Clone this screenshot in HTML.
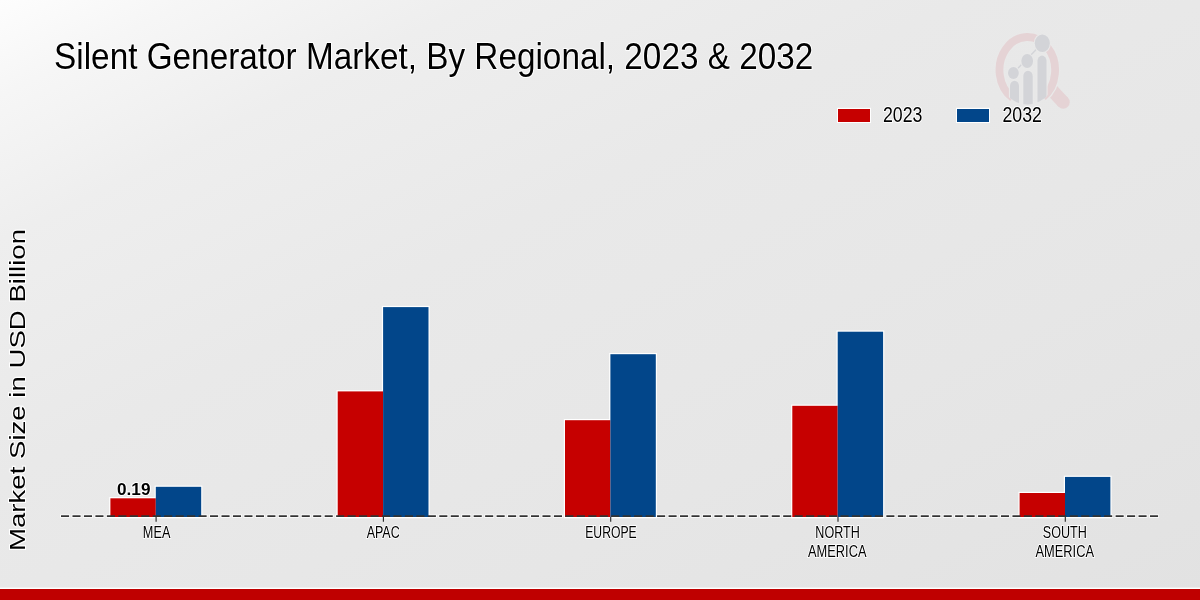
<!DOCTYPE html>
<html><head><meta charset="utf-8">
<style>
html,body{margin:0;padding:0;width:1200px;height:600px;overflow:hidden;background:#e8e8e8;}
svg{display:block;will-change:transform;font-family:"Liberation Sans", sans-serif;}
</style></head>
<body>
<svg width="1200" height="600" viewBox="0 0 1200 600">
<defs>
<linearGradient id="bg" x1="0" y1="0" x2="1" y2="1">
<stop offset="0" stop-color="#fdfdfd"/>
<stop offset="0.08" stop-color="#f6f6f6"/>
<stop offset="0.2" stop-color="#eeeeee"/>
<stop offset="0.4" stop-color="#e9e9e9"/>
<stop offset="0.7" stop-color="#e6e6e6"/>
<stop offset="1" stop-color="#e2e2e2"/>
</linearGradient>
</defs>
<rect x="0" y="0" width="1200" height="600" fill="url(#bg)"/>
<defs><clipPath id="lc"><ellipse cx="1027.3" cy="66" rx="31.5" ry="38.5"/></clipPath></defs>
<g id="logo">
<line x1="1049.5" y1="87.5" x2="1063.2" y2="102.2" stroke="#e5d3d5" stroke-width="13"/>
<circle cx="1063.2" cy="102.2" r="6.5" fill="#e5d3d5"/>
<path d="M1012.57,97.99 A27.8,33 0 1 1 1043.25,97.03" fill="none" stroke="#e9e9e9" stroke-width="10.5"/>
<path d="M1012.57,97.99 A27.8,33 0 1 1 1043.25,97.03" fill="none" stroke="#e5d3d5" stroke-width="7.8"/>
<g fill="#d3d4d8" stroke="#e9e9e9" stroke-width="2.2" paint-order="stroke">
<g clip-path="url(#lc)">
<path d="M1010,110 V85.92 A4.50,5.22 0 0 1 1019,85.92 V110 Z"/>
<path d="M1023.3,110 V76.20 A4.70,5.45 0 0 1 1032.7,76.20 V110 Z"/>
<path d="M1037.5,110 V60.82 A4.50,5.22 0 0 1 1046.5,60.82 V110 Z"/>
</g>
<line x1="1013.4" y1="73" x2="1042.3" y2="43.25" stroke="#d3d4d8" stroke-width="1.4"/>
<ellipse cx="1013.4" cy="73" rx="5.4" ry="6.05"/>
<ellipse cx="1027.2" cy="61" rx="5.85" ry="6.9"/>
<ellipse cx="1042.3" cy="43.25" rx="7.5" ry="8.75"/>
</g>
</g>
<g fill="#000">
<text x="54.1" y="69" font-size="36.4" text-anchor="start" font-weight="normal" textLength="759.2" lengthAdjust="spacingAndGlyphs" stroke="#fff" stroke-width="2" stroke-linejoin="round" paint-order="stroke">Silent Generator Market, By Regional, 2023 &amp; 2032</text>

<rect x="837" y="107.8" width="34" height="15.2" fill="#fff"/>
<rect x="838" y="109" width="32" height="13" fill="#c60000"/>
<text x="883" y="121.5" font-size="22.1" text-anchor="start" font-weight="normal" textLength="39.5" lengthAdjust="spacingAndGlyphs" stroke="#fff" stroke-width="2" stroke-linejoin="round" paint-order="stroke">2023</text>

<rect x="956" y="107.8" width="34" height="15.2" fill="#fff"/>
<rect x="957" y="109" width="32" height="13" fill="#02468a"/>
<text x="1002.5" y="121.5" font-size="22.1" text-anchor="start" font-weight="normal" textLength="39.5" lengthAdjust="spacingAndGlyphs" stroke="#fff" stroke-width="2" stroke-linejoin="round" paint-order="stroke">2032</text>

<text transform="translate(24.7,390) rotate(-90)" text-anchor="middle" font-size="22.3" textLength="322" lengthAdjust="spacingAndGlyphs" stroke="#fff" stroke-width="2" paint-order="stroke">Market Size in USD Billion</text>
</g>
<line x1="60.2" y1="516.1" x2="1159.1" y2="516.1" stroke="#fff" stroke-width="3.4" stroke-dasharray="9.700 1.763"/>
<g fill="#fff">
<rect x="109.20" y="497.10" width="47.80" height="21.20"/>
<rect x="154.60" y="485.60" width="47.80" height="32.70"/>
<rect x="336.50" y="390.20" width="47.80" height="128.10"/>
<rect x="381.90" y="305.90" width="47.80" height="212.40"/>
<rect x="563.80" y="419.00" width="47.80" height="99.30"/>
<rect x="609.20" y="353.00" width="47.80" height="165.30"/>
<rect x="791.10" y="404.60" width="47.80" height="113.70"/>
<rect x="836.50" y="330.50" width="47.80" height="187.80"/>
<rect x="1018.40" y="491.80" width="47.80" height="26.50"/>
<rect x="1063.80" y="475.70" width="47.80" height="42.60"/>
</g>
<rect x="110.40" y="498.3" width="45.4" height="18.70" fill="#c60000"/>
<rect x="155.80" y="486.8" width="45.4" height="30.20" fill="#02468a"/>
<rect x="337.70" y="391.4" width="45.4" height="125.60" fill="#c60000"/>
<rect x="383.10" y="307.1" width="45.4" height="209.90" fill="#02468a"/>
<rect x="565.00" y="420.2" width="45.4" height="96.80" fill="#c60000"/>
<rect x="610.40" y="354.2" width="45.4" height="162.80" fill="#02468a"/>
<rect x="792.30" y="405.8" width="45.4" height="111.20" fill="#c60000"/>
<rect x="837.70" y="331.7" width="45.4" height="185.30" fill="#02468a"/>
<rect x="1019.60" y="493" width="45.4" height="24.00" fill="#c60000"/>
<rect x="1065.00" y="476.9" width="45.4" height="40.10" fill="#02468a"/>

<line x1="61" y1="516.1" x2="1158.3" y2="516.1" stroke="#333" stroke-width="1.75" stroke-dasharray="8.100 3.363"/>
<g stroke="#2a2a2a" stroke-width="1.15">
<line x1="156.10" y1="517" x2="156.10" y2="521.7"/>
<line x1="383.40" y1="517" x2="383.40" y2="521.7"/>
<line x1="610.70" y1="517" x2="610.70" y2="521.7"/>
<line x1="838.00" y1="517" x2="838.00" y2="521.7"/>
<line x1="1065.30" y1="517" x2="1065.30" y2="521.7"/>
</g>
<g fill="#000">
<text x="156.6" y="538.2" font-size="16.6" text-anchor="middle" font-weight="normal" textLength="27.5" lengthAdjust="spacingAndGlyphs" stroke="#fff" stroke-width="2" stroke-linejoin="round" paint-order="stroke">MEA</text>
<text x="383.15" y="538.2" font-size="16.6" text-anchor="middle" font-weight="normal" textLength="33" lengthAdjust="spacingAndGlyphs" stroke="#fff" stroke-width="2" stroke-linejoin="round" paint-order="stroke">APAC</text>
<text x="610.95" y="538.2" font-size="16.6" text-anchor="middle" font-weight="normal" textLength="51.5" lengthAdjust="spacingAndGlyphs" stroke="#fff" stroke-width="2" stroke-linejoin="round" paint-order="stroke">EUROPE</text>
<text x="837.6" y="538.2" font-size="16.6" text-anchor="middle" font-weight="normal" textLength="44.5" lengthAdjust="spacingAndGlyphs" stroke="#fff" stroke-width="2" stroke-linejoin="round" paint-order="stroke">NORTH</text>
<text x="837.25" y="557" font-size="16.6" text-anchor="middle" font-weight="normal" textLength="58.5" lengthAdjust="spacingAndGlyphs" stroke="#fff" stroke-width="2" stroke-linejoin="round" paint-order="stroke">AMERICA</text>
<text x="1064.75" y="538.2" font-size="16.6" text-anchor="middle" font-weight="normal" textLength="44" lengthAdjust="spacingAndGlyphs" stroke="#fff" stroke-width="2" stroke-linejoin="round" paint-order="stroke">SOUTH</text>
<text x="1064.75" y="557" font-size="16.6" text-anchor="middle" font-weight="normal" textLength="58.5" lengthAdjust="spacingAndGlyphs" stroke="#fff" stroke-width="2" stroke-linejoin="round" paint-order="stroke">AMERICA</text>
<text x="133.75" y="494.8" font-size="16.4" text-anchor="middle" font-weight="bold" textLength="33.5" lengthAdjust="spacingAndGlyphs" stroke="#fff" stroke-width="2" stroke-linejoin="round" paint-order="stroke">0.19</text>

</g>
<rect x="0" y="587.6" width="1200" height="1.4" fill="#fff"/>
<rect x="0" y="589" width="1200" height="11" fill="#bf0000"/>
</svg>
</body></html>
